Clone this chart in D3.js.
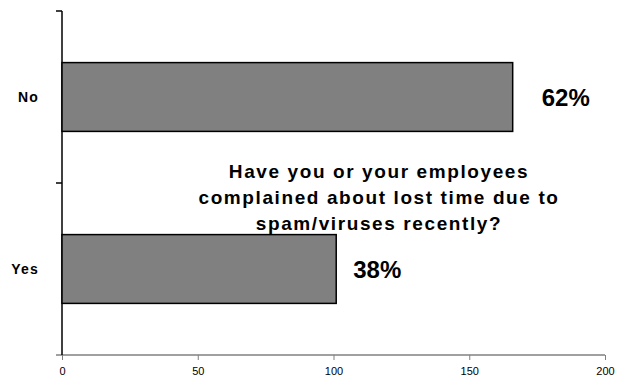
<!DOCTYPE html>
<html>
<head>
<meta charset="utf-8">
<script src="https://cdn.jsdelivr.net/npm/d3@7"></script>
<style>
  body { margin: 0; background: #fff; }
  svg text { font-family: "Liberation Sans", Arial, sans-serif; }
</style>
</head>
<body>
<svg></svg>
<script>
var categories = ['No', 'Yes'];
var values = [166, 101];
var pctLabels = ['62%', '38%'];
var xTicks = [0, 50, 100, 150, 200];
var titleLines = ['Have you or your employees', 'complained about lost time due to', 'spam/viruses recently?'];

var width = 620,
  height = 379,
  plot = { left: 62, right: 605, top: 11, bottom: 355 };

var svg = d3.select("svg")
  .attr("width", width)
  .attr("height", height);

var x = d3.scaleLinear().domain([0, 200]).range([plot.left, plot.right]);

var y = d3.scaleBand()
  .domain(categories)
  .range([plot.top, plot.bottom])
  .paddingInner(0.6)
  .paddingOuter(0.3);

// x axis (grey line, ticks downward)
var xAxis = d3.axisBottom(x).tickValues(xTicks).tickSize(5).tickSizeOuter(0);
var gx = svg.append("g")
  .attr("transform", "translate(0," + plot.bottom + ")")
  .call(xAxis);
gx.select(".domain").attr("stroke", "#808080").attr("stroke-width", 1.5)
  .attr("d", "M" + (plot.left - 6) + ",0H" + plot.right);
gx.selectAll(".tick line").attr("stroke", "#808080");
gx.selectAll(".tick text")
  .attr("fill", "#000")
  .attr("dy", "1.1em")
  .style("font-size", "11px");

// y axis (black line, ticks between categories)
var gy = svg.append("g");
gy.append("line")
  .attr("x1", plot.left).attr("x2", plot.left)
  .attr("y1", plot.top).attr("y2", plot.bottom)
  .attr("stroke", "#000").attr("stroke-width", 1.5);
var yTickPos = [plot.top, plot.top + (plot.bottom - plot.top) / 2];
gy.selectAll(".ytick")
  .data(yTickPos)
  .enter().append("line")
  .attr("x1", plot.left - 6).attr("x2", plot.left)
  .attr("y1", function(d) { return d; })
  .attr("y2", function(d) { return d; })
  .attr("stroke", "#000").attr("stroke-width", 1.5);

gy.selectAll(".cat")
  .data(categories)
  .enter().append("text")
  .attr("x", 39)
  .attr("y", function(d) { return y(d) + y.bandwidth() / 2; })
  .attr("dy", "0.35em")
  .attr("text-anchor", "end")
  .style("font-size", "14px")
  .style("font-weight", "bold")
  .style("letter-spacing", "1.2px")
  .text(function(d) { return d; });

// bars
svg.selectAll(".bar")
  .data(values)
  .enter().append("rect")
  .attr("x", x(0))
  .attr("y", function(d, i) { return y(categories[i]); })
  .attr("width", function(d) { return x(d) - x(0); })
  .attr("height", y.bandwidth())
  .attr("fill", "#808080")
  .attr("stroke", "#000")
  .attr("stroke-width", 1.5);

// percentage labels
svg.selectAll(".pct")
  .data(values)
  .enter().append("text")
  .attr("x", function(d, i) { return x(d) + (i === 0 ? 29 : 17); })
  .attr("y", function(d, i) { return y(categories[i]) + y.bandwidth() / 2; })
  .attr("dy", "0.36em")
  .style("font-size", "24px")
  .style("font-weight", "bold")
  .text(function(d, i) { return pctLabels[i]; });

// title
svg.append("text")
  .attr("x", 379)
  .attr("y", 178)
  .attr("text-anchor", "middle")
  .style("font-size", "19px")
  .style("font-weight", "bold")
  .style("letter-spacing", "1.6px")
  .selectAll("tspan")
  .data(titleLines)
  .enter().append("tspan")
  .attr("x", 379)
  .attr("dy", function(d, i) { return i === 0 ? 0 : 26; })
  .text(function(d) { return d; });
</script>
</body>
</html>
